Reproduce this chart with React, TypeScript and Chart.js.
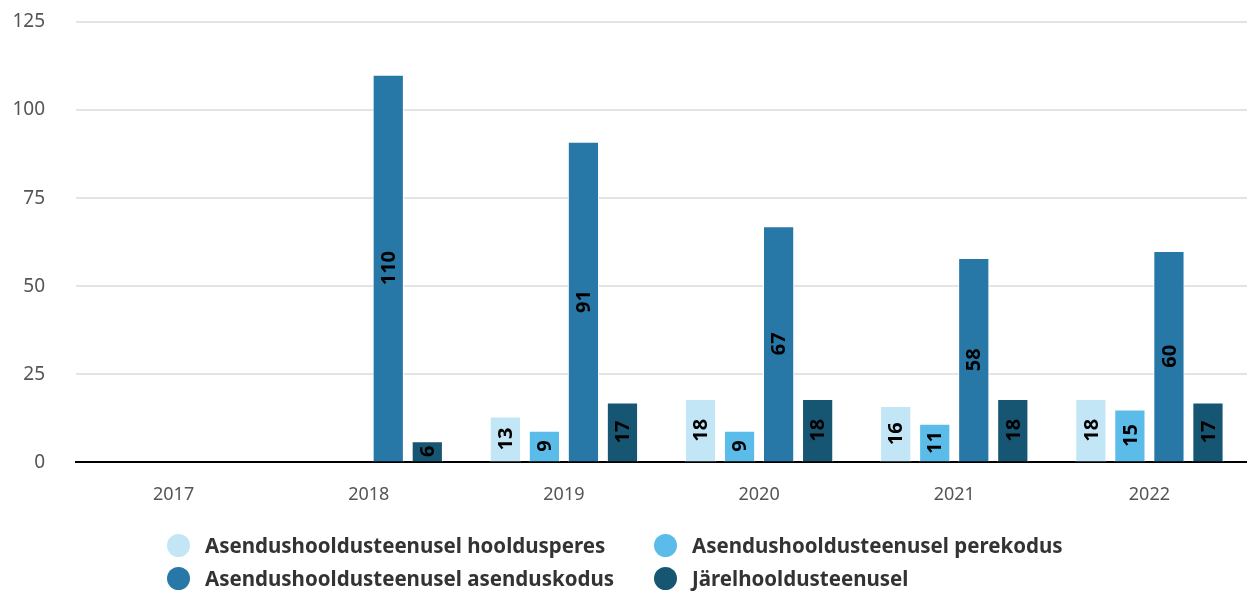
import React, { useEffect, useRef } from "react";
import { Chart, registerables } from "chart.js";

Chart.register(...registerables);

const categories = ["2017", "2018", "2019", "2020", "2021", "2022"];
const seriesNames = [
  "Asendushooldusteenusel hooldusperes",
  "Asendushooldusteenusel perekodus",
  "Asendushooldusteenusel asenduskodus",
  "Järelhooldusteenusel",
];
const hooldusperes = [null, null, 13, 18, 16, 18];
const perekodus = [null, null, 9, 9, 11, 15];
const asenduskodus = [null, 110, 91, 67, 58, 60];
const jarelhooldus = [null, 6, 17, 18, 18, 17];
const colors = ["#c2e6f6", "#5cbce9", "#2777a7", "#175673"];
const yTicks = [0, 25, 50, 75, 100, 125];

const FONT = "'Noto Sans', 'Open Sans', sans-serif";

const labelPlugin = {
  id: "barLabels",
  afterDatasetsDraw(chart: any) {
    const ctx = chart.ctx;
    ctx.save();
    ctx.font = `bold 20px ${FONT}`;
    ctx.fillStyle = "#000";
    ctx.textAlign = "center";
    ctx.textBaseline = "middle";
    chart.data.datasets.forEach((ds: any, i: number) => {
      const meta = chart.getDatasetMeta(i);
      meta.data.forEach((bar: any, j: number) => {
        const v = ds.data[j];
        if (v === null || v === undefined) return;
        const cx = bar.x;
        const cy = (bar.y + bar.base) / 2;
        ctx.save();
        ctx.translate(cx, cy);
        ctx.rotate(-Math.PI / 2);
        ctx.fillText(String(v), 0, 1);
        ctx.restore();
      });
    });
    ctx.restore();
  },
};

export default function App() {
  const ref = useRef<HTMLCanvasElement>(null);
  useEffect(() => {
    document.body.style.margin = "0";
    const data = [hooldusperes, perekodus, asenduskodus, jarelhooldus];
    const chart = new Chart(ref.current!, {
      type: "bar",
      data: {
        labels: categories,
        datasets: data.map((d, i) => ({
          label: seriesNames[i],
          data: d as any,
          backgroundColor: colors[i],
          borderColor: "#ffffff",
          borderWidth: 1,
          barPercentage: 0.8,
          categoryPercentage: 0.8,
        })),
      },
      options: {
        animation: false,
        responsive: false,
        maintainAspectRatio: false,
        layout: { padding: { top: 22, right: 0, bottom: 71, left: 0 } },
        plugins: { legend: { display: false }, tooltip: { enabled: false } },
        scales: {
          x: {
            grid: { display: false },
            border: { color: "#000", width: 2 },
            ticks: { color: "#555", font: { family: FONT, size: 18 }, padding: 14 },
          },
          y: {
            min: 0,
            max: 125,
            afterBuildTicks(axis: any) {
              axis.ticks = yTicks.map((v) => ({ value: v }));
            },
            afterFit(axis: any) {
              axis.width = 76;
              axis.paddingTop = 0;
              axis.paddingBottom = 0;
            },
            grid: { color: "#e4e4e4", lineWidth: 2, drawTicks: false },
            border: { display: false },
            ticks: { color: "#555", font: { family: FONT, size: 19 }, padding: 31 },
          },
        },
      },
      plugins: [labelPlugin],
    });
    return () => chart.destroy();
  }, []);

  const legendItem = (i: number, left: number, top: number) => (
    <div
      key={i}
      style={{
        position: "absolute",
        left,
        top,
        display: "flex",
        alignItems: "center",
        fontFamily: FONT,
        fontWeight: 700,
        fontSize: 20.5,
        color: "#333",
        whiteSpace: "nowrap",
      }}
    >
      <span
        style={{
          display: "inline-block",
          width: 23,
          height: 23,
          borderRadius: "50%",
          background: colors[i],
          marginRight: 15,
        }}
      />
      {seriesNames[i]}
    </div>
  );

  return (
    <div style={{ position: "relative", width: 1247, height: 591, overflow: "hidden" }}>
      <canvas ref={ref} width={1247} height={591} style={{ display: "block" }} />
      {legendItem(0, 167, 531)}
      {legendItem(1, 654, 531)}
      {legendItem(2, 167, 564)}
      {legendItem(3, 654, 564)}
    </div>
  );
}
